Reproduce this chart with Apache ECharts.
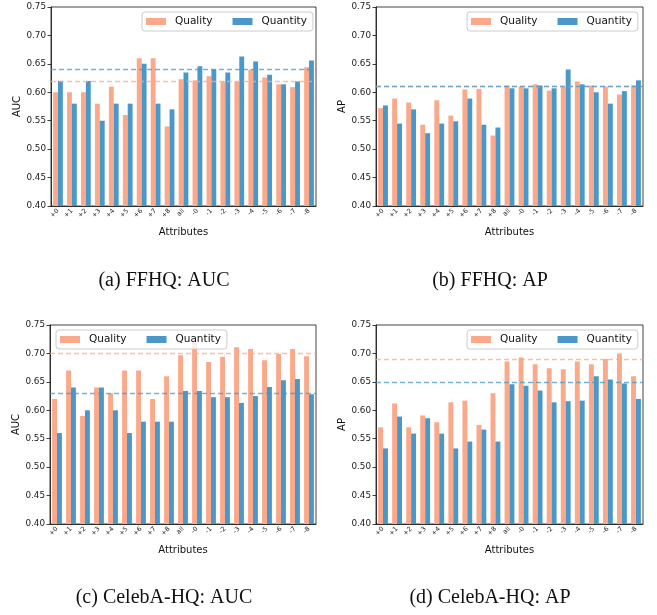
<!DOCTYPE html>
<html>
<head>
<meta charset="utf-8">
<script src="https://cdn.jsdelivr.net/npm/echarts@6/dist/echarts.min.js"></script>
<style>
  html, body { margin: 0; padding: 0; background: #fff; }
  #chart { width: 657px; height: 615px; }
</style>
</head>
<body>
<div id="chart"></div>
<script>
// Attribute groups on the x axis
const categories = ['+0', '+1', '+2', '+3', '+4', '+5', '+6', '+7', '+8', 'all',
                    '-0', '-1', '-2', '-3', '-4', '-5', '-6', '-7', '-8'];
const seriesNames = ['Quality', 'Quantity'];

// FFHQ scores
const ffhqAucQuality  = [0.600, 0.600, 0.600, 0.580, 0.610, 0.560, 0.660, 0.660, 0.540, 0.623,
                         0.621, 0.628, 0.619, 0.619, 0.640, 0.626, 0.614, 0.609, 0.644];
const ffhqAucQuantity = [0.620, 0.580, 0.620, 0.550, 0.580, 0.580, 0.650, 0.580, 0.570, 0.635,
                         0.646, 0.640, 0.635, 0.663, 0.654, 0.631, 0.614, 0.619, 0.656];
const ffhqApQuality   = [0.572, 0.589, 0.582, 0.543, 0.586, 0.559, 0.605, 0.606, 0.524, 0.612,
                         0.610, 0.614, 0.603, 0.609, 0.619, 0.612, 0.610, 0.596, 0.612];
const ffhqApQuantity  = [0.577, 0.545, 0.570, 0.528, 0.545, 0.549, 0.589, 0.543, 0.538, 0.607,
                         0.607, 0.612, 0.607, 0.640, 0.614, 0.600, 0.580, 0.602, 0.621];

// CelebA-HQ scores
const celebAucQuality  = [0.620, 0.670, 0.590, 0.640, 0.630, 0.670, 0.670, 0.620, 0.660, 0.697,
                          0.720, 0.685, 0.694, 0.711, 0.708, 0.688, 0.699, 0.708, 0.695];
const celebAucQuantity = [0.560, 0.640, 0.600, 0.640, 0.600, 0.560, 0.580, 0.580, 0.580, 0.634,
                          0.634, 0.623, 0.623, 0.613, 0.625, 0.641, 0.653, 0.655, 0.628];
const celebApQuality   = [0.570, 0.612, 0.570, 0.591, 0.579, 0.614, 0.617, 0.574, 0.630, 0.686,
                          0.693, 0.681, 0.674, 0.672, 0.686, 0.681, 0.690, 0.700, 0.660];
const celebApQuantity  = [0.533, 0.589, 0.559, 0.586, 0.559, 0.533, 0.545, 0.566, 0.545, 0.646,
                          0.643, 0.635, 0.614, 0.616, 0.617, 0.660, 0.654, 0.647, 0.620];

// Shared y range and tick step
const yMin = 0.40, yMax = 0.75, yStep = 0.05;

const SALMON = '#FBA98B';
const BLUE = '#4A98CA';
const SALMON_LINE = 'rgba(251,169,139,0.75)';
const BLUE_LINE = 'rgba(74,152,202,0.75)';
const SANS = '"DejaVu Sans", sans-serif';
const SERIF = '"Liberation Serif", "DejaVu Serif", serif';
const allIdx = categories.indexOf('all');

const panels = [
  { grid: { left: 51, top: 7, width: 265, height: 199 }, yName: 'AUC',
    quality: ffhqAucQuality, quantity: ffhqAucQuantity,
    legend: { left: 142, top: 12 }, caption: '(a) FFHQ: AUC', capX: 164, capY: 281 },
  { grid: { left: 376, top: 7, width: 267, height: 199 }, yName: 'AP',
    quality: ffhqApQuality, quantity: ffhqApQuantity,
    legend: { left: 467, top: 12 }, caption: '(b) FFHQ: AP', capX: 490, capY: 281 },
  { grid: { left: 50, top: 325, width: 266, height: 199 }, yName: 'AUC',
    quality: celebAucQuality, quantity: celebAucQuantity,
    legend: { left: 56, top: 330 }, caption: '(c) CelebA-HQ: AUC', capX: 164, capY: 598 },
  { grid: { left: 376, top: 325, width: 267, height: 199 }, yName: 'AP',
    quality: celebApQuality, quantity: celebApQuantity,
    legend: { left: 467, top: 330 }, caption: '(d) CelebA-HQ: AP', capX: 490, capY: 598 }
];

const grids = [], xAxes = [], yAxes = [], series = [], legends = [], graphics = [];

panels.forEach((p, i) => {
  grids.push(Object.assign({
    show: true, borderColor: '#111', borderWidth: 0.8, backgroundColor: 'transparent',
    containLabel: false
  }, p.grid));

  xAxes.push({
    type: 'category', gridIndex: i, data: categories,
    axisLine: { lineStyle: { color: '#111', width: 0.8 } },
    axisTick: { alignWithLabel: true, length: 3.5, lineStyle: { color: '#111', width: 0.8 } },
    axisLabel: { interval: 0, rotate: 45, fontSize: 6.5, margin: 4, color: '#222', fontFamily: SANS },
    splitLine: { show: false },
    name: 'Attributes', nameLocation: 'middle', nameGap: 21,
    nameTextStyle: { fontSize: 10, color: '#111', fontFamily: SANS }
  });

  yAxes.push({
    type: 'value', gridIndex: i, min: yMin, max: yMax, interval: yStep,
    axisLine: { show: true, lineStyle: { color: '#111', width: 0.8 } },
    axisTick: { show: true, length: 3.5, lineStyle: { color: '#111', width: 0.8 } },
    axisLabel: { fontSize: 8.8, margin: 5, color: '#222', fontFamily: SANS,
                 formatter: v => v.toFixed(2) },
    splitLine: { show: false },
    name: p.yName, nameLocation: 'middle', nameGap: 26, nameRotate: 90,
    nameTextStyle: { fontSize: 10, color: '#111', fontFamily: SANS }
  });

  const pairs = [
    { name: seriesNames[0], data: p.quality, color: SALMON, line: SALMON_LINE },
    { name: seriesNames[1], data: p.quantity, color: BLUE, line: BLUE_LINE }
  ];
  pairs.forEach(s => {
    series.push({
      type: 'bar', name: s.name, xAxisIndex: i, yAxisIndex: i,
      data: s.data, barWidth: '35%', barGap: '0%',
      itemStyle: { color: s.color },
      markLine: {
        silent: true, symbol: 'none', label: { show: false },
        lineStyle: { type: [5, 3], color: s.line, width: 1.4 },
        data: [{ yAxis: s.data[allIdx] }]
      }
    });
  });

  legends.push({
    left: p.legend.left, top: p.legend.top,
    data: seriesNames, orient: 'horizontal',
    icon: 'rect', itemWidth: 20, itemHeight: 7, itemGap: 20,
    padding: [4, 6, 4, 4],
    backgroundColor: 'rgba(255,255,255,0.8)',
    borderColor: '#cccccc', borderWidth: 1, borderRadius: 3,
    textStyle: { fontSize: 10.5, color: '#111', fontFamily: SANS, padding: [0, 0, 0, 4] },
    z: 10
  });

  graphics.push({
    type: 'text', x: p.capX, y: p.capY,
    style: { text: p.caption, font: '20px ' + SERIF, fill: '#111',
             align: 'center', verticalAlign: 'middle' }
  });
});

const chart = echarts.init(document.getElementById('chart'), null, { renderer: 'canvas' });
chart.setOption({
  animation: false,
  backgroundColor: '#fff',
  grid: grids,
  xAxis: xAxes,
  yAxis: yAxes,
  legend: legends,
  series: series,
  graphic: graphics
});
</script>
</body>
</html>
